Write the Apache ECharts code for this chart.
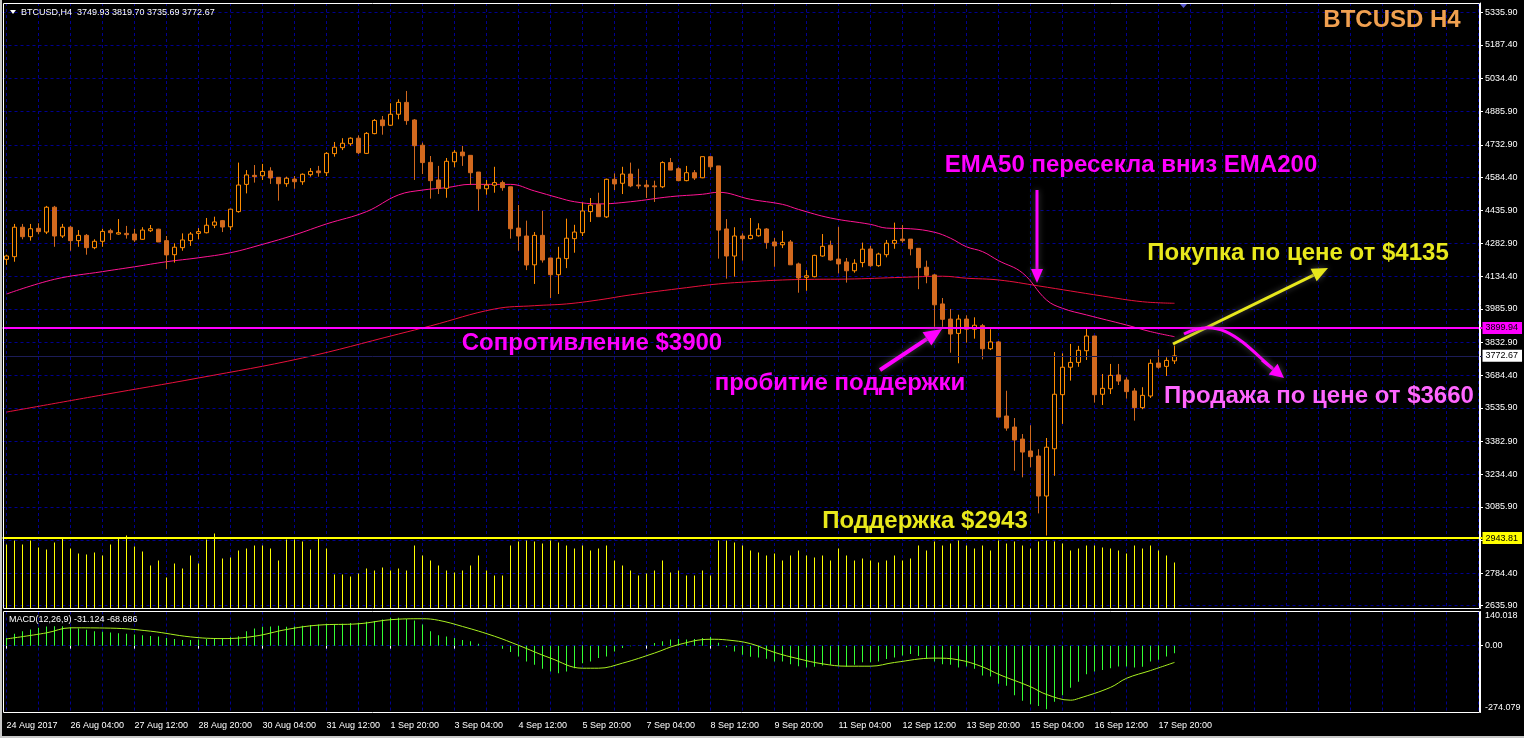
<!DOCTYPE html>
<html><head><meta charset="utf-8">
<script src="https://cdn.jsdelivr.net/npm/echarts@6/dist/echarts.min.js"></script>
<style>html,body{margin:0;padding:0;background:#000;}#c{width:1524px;height:738px;}</style>
</head><body><div id="c"></div>
<script>
// ---------------- DATA ----------------
const symbolName = 'BTCUSD,H4';
const timeLabels = ['24 Aug 2017','26 Aug 04:00','27 Aug 12:00','28 Aug 20:00','30 Aug 04:00','31 Aug 12:00','1 Sep 20:00','3 Sep 04:00','4 Sep 12:00','5 Sep 20:00','7 Sep 04:00','8 Sep 12:00','9 Sep 20:00','11 Sep 04:00','12 Sep 12:00','13 Sep 20:00','15 Sep 04:00','16 Sep 12:00','17 Sep 20:00'];
const priceTickValues = [2635.90,2784.40,2934.40,3085.90,3234.40,3382.90,3535.90,3684.40,3832.90,3985.90,4134.40,4282.90,4435.90,4584.40,4732.90,4885.90,5034.40,5187.40,5335.90];
const priceLabelValues = [2635.90,2784.40,3085.90,3234.40,3382.90,3535.90,3684.40,3832.90,3985.90,4134.40,4282.90,4435.90,4584.40,4732.90,4885.90,5034.40,5187.40,5335.90];
const macdLabelValues = [-274.079, 0, 140.018];
const resistanceLevel = 3899.94;
const supportLevel = 2943.81;
// [open, high, low, close]
const ohlc = [
[4212,4233,4187,4227],[4224,4373,4201,4358],[4358,4373,4303,4315],[4315,4373,4297,4351],[4353,4376,4326,4338],
[4336,4455,4327,4449],[4449,4455,4269,4318],[4318,4373,4309,4358],[4358,4364,4251,4297],[4297,4345,4269,4321],
[4321,4327,4233,4265],[4265,4303,4258,4294],[4294,4351,4269,4339],[4342,4351,4300,4333],[4327,4395,4324,4333],
[4330,4364,4306,4324],[4327,4351,4291,4300],[4303,4358,4300,4345],[4342,4368,4336,4351],[4349,4351,4291,4291],
[4297,4318,4168,4232],[4233,4285,4197,4267],[4265,4330,4251,4300],[4297,4336,4273,4327],[4330,4354,4303,4338],
[4333,4400,4330,4367],[4367,4406,4354,4382],[4388,4391,4336,4359],[4360,4442,4345,4440],[4429,4652,4424,4550],
[4553,4618,4512,4596],[4594,4641,4561,4588],[4592,4646,4573,4612],[4614,4631,4555,4582],[4585,4585,4479,4556],
[4556,4588,4542,4581],[4577,4591,4533,4565],[4565,4603,4551,4599],[4597,4627,4588,4612],[4614,4637,4588,4606],
[4606,4700,4591,4694],[4693,4746,4679,4722],[4720,4763,4709,4740],[4738,4767,4728,4763],[4763,4776,4691,4697],
[4694,4791,4691,4785],[4784,4850,4781,4844],[4846,4864,4779,4820],[4822,4922,4819,4872],[4872,4940,4849,4926],
[4926,4978,4824,4843],[4846,4850,4573,4729],[4731,4743,4600,4652],[4653,4682,4488,4570],[4573,4637,4509,4535],
[4535,4673,4492,4658],[4656,4709,4631,4699],[4700,4728,4637,4683],[4685,4685,4550,4606],[4609,4609,4433,4533],
[4533,4573,4506,4550],[4549,4633,4515,4561],[4561,4570,4524,4538],[4542,4542,4306,4351],[4354,4459,4251,4318],
[4318,4388,4163,4186],[4187,4336,4100,4321],[4321,4433,4197,4209],[4218,4218,4036,4142],[4142,4269,4054,4217],
[4215,4397,4172,4308],[4306,4369,4242,4336],[4333,4470,4318,4432],[4429,4491,4382,4458],[4462,4515,4406,4406],
[4405,4579,4400,4576],[4576,4603,4527,4555],[4558,4633,4509,4600],[4600,4652,4540,4546],[4550,4624,4533,4546],
[4550,4573,4491,4542],[4546,4570,4473,4542],[4542,4658,4536,4652],[4652,4673,4618,4618],[4624,4631,4567,4570],
[4570,4637,4567,4606],[4606,4618,4573,4582],[4583,4679,4581,4679],[4679,4679,4618,4633],[4637,4637,4215,4345],
[4350,4395,4124,4227],[4227,4358,4133,4318],[4318,4330,4206,4306],[4306,4400,4303,4321],[4319,4376,4315,4350],
[4350,4354,4260,4288],[4291,4309,4178,4273],[4278,4342,4263,4289],[4291,4300,4187,4187],[4191,4197,4060,4127],
[4130,4163,4069,4137],[4133,4233,4130,4230],[4227,4327,4224,4271],[4276,4297,4206,4209],[4213,4360,4148,4191],
[4200,4218,4106,4160],[4160,4212,4151,4194],[4197,4288,4176,4258],[4259,4273,4178,4183],[4183,4242,4178,4236],
[4233,4300,4221,4285],[4285,4379,4260,4298],[4304,4368,4288,4297],[4304,4304,4230,4260],[4262,4262,4076,4174],
[4176,4206,4103,4139],[4141,4145,3905,4005],[4009,4036,3905,3939],[3940,3986,3787,3872],[3875,3960,3739,3940],
[3940,3957,3833,3894],[3894,3948,3851,3912],[3910,3918,3757,3805],[3805,3894,3799,3836],[3836,3840,3494,3494],
[3499,3614,3432,3444],[3449,3490,3250,3390],[3394,3417,3220,3335],[3340,3457,3266,3314],[3317,3348,3056,3135],
[3135,3399,2955,3357],[3350,3790,3227,3598],[3596,3784,3463,3721],[3721,3827,3660,3743],[3743,3818,3723,3798],
[3796,3899,3754,3863],[3863,3863,3560,3596],[3598,3690,3549,3625],[3623,3736,3599,3684],[3686,3736,3640,3658],
[3663,3675,3578,3610],[3613,3626,3478,3537],[3537,3630,3530,3593],[3590,3757,3581,3739],[3740,3802,3714,3721],
[3725,3766,3681,3752],[3749.93,3819.70,3735.69,3772.67]
];
const volumes = [
640,680,640,680,610,590,660,710,600,550,540,560,530,640,710,730,620,570,430,480,
310,450,400,530,450,690,750,500,510,580,600,630,630,600,480,690,690,670,590,710,
600,340,340,320,350,400,380,410,380,400,380,630,530,480,430,380,360,380,430,530,
380,330,330,630,670,680,670,650,680,660,630,600,630,580,600,630,480,430,380,330,
350,380,480,360,380,330,330,380,330,680,680,660,630,580,560,530,550,480,530,580,
530,510,530,480,600,530,480,500,480,460,480,530,480,500,630,580,670,630,650,680,
630,600,630,580,680,650,670,630,600,670,680,670,650,580,600,630,630,610,600,580,
550,630,600,630,580,530,460
];
const macdMain = [
31.7,48.3,59.3,66.2,73.1,78.7,80,80,75.9,70.4,64.9,59.3,56.6,53.8,51.1,48.3,45.5,42.8,40,37.3,
31.7,27.6,23.5,23.5,24.8,27.6,29,31.7,34.5,38.6,59.3,70.4,77.3,78.7,81.4,77.3,78.7,81.4,84.2,86.9,
89.7,86.9,89.7,92.5,93.8,98,100.7,107.6,114.5,114.5,109,103.5,86.9,59.3,42.8,37.3,31.7,23.5,17.9,8.3,
1.4,-1.4,-12.4,-26.2,-44.2,-64.9,-78.7,-95.2,-106.3,-113.2,-106.3,-92.5,-71.8,-64.9,-51.1,-44.2,-23.5,-9.7,-2.8,-1.4,
1.4,11,17.9,24.8,27.6,24.8,27.6,31.7,35.9,12.4,-6.9,-23.5,-37.3,-45.5,-48.3,-53.8,-64.9,-64.9,-75.9,-84.2,
-89.7,-86.9,-81.4,-78.7,-81.4,-86.9,-78.7,-67.6,-67.6,-64.9,-55.2,-48.3,-40,-34.5,-42.8,-51.1,-64.9,-75.9,-78.7,-90,
-85,-95,-122.8,-126.9,-155.9,-164.2,-202.9,-226.3,-240.1,-247,-260.8,-230.5,-202.9,-172.5,-147.7,-117.3,-106.3,-99.4,-92.5,-85.6,
-85.6,-89.7,-86.9,-64.9,-57.9,-44.2,-31.124
];
// sparse readings [bar index, value]
const macdSignal = [[0,27.6],[5,52.4],[8,73.1],[13,71.8],[18,59.3],[23,35.9],[27,29],[31,38.6],[35,66.2],[39,84.2],[44,89.7],[48,106.3],[52,110.4],[54,104],[57,78.7],[61,38.6],[64,1.4],[68,-51.1],[72,-92.5],[74,-92.5],[77,-71.8],[81,-30.4],[84,4.1],[88,26.2],[90,23.5],[93,8.3],[96,-27.6],[99,-53.8],[102,-74.5],[105,-84.2],[108,-84.2],[111,-69],[116,-51.1],[119,-58],[122,-86.9],[124,-117.3],[128,-168.4],[130,-200.1],[133,-223.6],[134,-216.7],[138,-171.1],[140,-133.9],[143,-102.1],[146,-68.686]];
const ema50 = [[0,4054],[6,4121],[12,4156],[16,4178],[20,4201],[24,4219],[28,4242],[32,4280],[36,4323],[40,4373],[45,4429],[49,4505],[52,4527],[55,4538],[58,4553],[63,4553],[66,4523],[69,4492],[71,4474],[74,4464],[78,4474],[83,4497],[87,4508],[89,4517],[93,4485],[97,4462],[99,4439],[103,4400],[108,4371],[110,4354],[113,4351],[116,4335],[118,4308],[120,4269],[122,4247],[124,4206],[127,4150],[130,4027],[132,3989],[135,3959],[140,3913],[143,3883],[146,3860]];
const ema200 = [[0,3517],[12,3595],[24,3672],[37,3763],[49,3872],[53,3909],[61,3986],[66,4001],[70,4009],[74,4027],[78,4050],[85,4083],[89,4100],[93,4110],[97,4118],[101,4121],[105,4122],[112,4130],[117,4135],[120,4126],[124,4118],[129,4091],[137,4045],[142,4019],[146,4012]];

// ---------------- BUILD ----------------
const SLOTS = 185;
const categories = [];
const t0 = Date.UTC(2017, 7, 24, 20);
for (let i = 0; i < SLOTS; i++) categories.push(new Date(t0 + i * 4 * 3600000).toISOString().slice(0, 16));
const candleData = ohlc.map(r => [r[0], r[3], r[2], r[1]]);
const last = ohlc[ohlc.length - 1];
const FONT = '"Liberation Sans", Arial, sans-serif';
const gridLine = { color: '#000090', width: 1, type: [3, 3] };
const axisLblStyle = { color: '#ffffff', fontSize: 9, fontFamily: FONT };
const SH = { shadowBlur: 6, shadowColor: 'rgba(90,90,90,0.8)' };

function arrow(x1, y1, x2, y2, color, w, hl, hw) {
  const a = Math.atan2(y2 - y1, x2 - x1);
  const bx = x2 - hl * Math.cos(a), by = y2 - hl * Math.sin(a);
  const px = -Math.sin(a) * hw, py = Math.cos(a) * hw;
  return [
    { type: 'line', z: 100, shape: { x1, y1, x2: bx, y2: by }, style: Object.assign({ stroke: color, lineWidth: w }, SH) },
    { type: 'polygon', z: 100, shape: { points: [[x2, y2], [bx + px, by + py], [bx - px, by - py]] }, style: Object.assign({ fill: color }, SH) }
  ];
}
function label(x, y, text, color, size) {
  return { type: 'text', z: 100, x, y, style: { text, fill: color, font: 'bold ' + size + 'px ' + FONT, align: 'center', verticalAlign: 'middle', textAlign: 'center', textVerticalAlign: 'middle' } };
}
const MAG = '#ff00ff', YEL = '#e8e81c';
const graphics = [
  { type: 'rect', z: 90, shape: { x: 0, y: 0, width: 2, height: 738 }, style: { fill: '#c8c8c8' } },
  { type: 'rect', z: 90, shape: { x: 0, y: 736, width: 1524, height: 2 }, style: { fill: '#c8c8c8' } },
  { type: 'rect', z: 90, shape: { x: 3.5, y: 3.5, width: 1476, height: 605 }, style: { stroke: '#ffffff', fill: null, lineWidth: 1 } },
  { type: 'rect', z: 90, shape: { x: 3.5, y: 611.5, width: 1476, height: 101 }, style: { stroke: '#ffffff', fill: null, lineWidth: 1 } },
  { type: 'polygon', z: 100, shape: { points: [[1180, 4], [1187, 4], [1183.5, 8]] }, style: { fill: '#5a5ad0' } },
  { type: 'polygon', z: 100, shape: { points: [[10, 10], [16, 10], [13, 14]] }, style: { fill: '#ffffff' } },
  { type: 'text', z: 100, x: 21, y: 13, style: { text: symbolName + '  ' + last.map(v => v.toFixed(2)).join(' '), fill: '#ffffff', font: '9px ' + FONT, verticalAlign: 'middle', textVerticalAlign: 'middle' } },
  { type: 'text', z: 100, x: 9, y: 620, style: { text: 'MACD(12,26,9) ' + macdMain[macdMain.length - 1].toFixed(3) + ' ' + macdSignal[macdSignal.length - 1][1].toFixed(3), fill: '#ffffff', font: '9px ' + FONT, verticalAlign: 'middle', textVerticalAlign: 'middle' } },
  label(1392, 20, 'BTCUSD H4', '#f0a050', 24),
  label(1131, 165, 'EMA50 пересекла вниз EMA200', MAG, 24),
  label(1298, 253, 'Покупка по цене от $4135', YEL, 24),
  label(592, 343, 'Сопротивление $3900', MAG, 24),
  label(840, 383, 'пробитие поддержки', MAG, 24),
  label(1319, 396, 'Продажа по цене от $3660', '#ff66ff', 24),
  label(925, 521, 'Поддержка $2943', YEL, 24),
  ...arrow(1037, 190, 1037, 283, MAG, 3, 14, 6),
  ...arrow(1173, 344, 1328, 268, YEL, 3, 16, 7),
  ...arrow(880, 370, 942, 329, MAG, 4, 18, 8),
  { type: 'bezierCurve', z: 100, shape: { x1: 1184, y1: 334, cpx1: 1222, cpy1: 314, cpx2: 1245, cpy2: 345, x2: 1272, y2: 368 }, style: Object.assign({ stroke: MAG, lineWidth: 3, fill: null }, SH) },
  ...arrow(1262, 360, 1284, 378, MAG, 3, 14, 7)
];

const option = {
  backgroundColor: '#000000',
  animation: false,
  grid: [
    { left: 2.5, top: 3, width: 1480, height: 605.5, show: false },
    { left: 2.5, top: 611.5, width: 1480, height: 101, show: false }
  ],
  xAxis: [
    { type: 'category', gridIndex: 0, data: categories, boundaryGap: true,
      axisLine: { show: false }, axisTick: { show: false }, axisLabel: { show: false },
      splitLine: { show: true, interval: (i) => i % 4 === 0, alignWithLabel: true, lineStyle: gridLine } },
    { type: 'category', gridIndex: 1, data: categories, boundaryGap: true,
      axisLine: { show: false },
      axisTick: { show: true, interval: (i) => i % 8 === 0 && i / 8 < timeLabels.length, alignWithLabel: true, length: 3, lineStyle: { color: '#ffffff' } },
      axisLabel: Object.assign({ show: true, interval: (i) => i % 8 === 0 && i / 8 < timeLabels.length, align: 'left', margin: 9,
        formatter: (v, i) => timeLabels[i / 8] || '' }, axisLblStyle),
      splitLine: { show: true, interval: (i) => i % 4 === 0, alignWithLabel: true, lineStyle: gridLine } }
  ],
  yAxis: [
    { type: 'value', gridIndex: 0, position: 'right', offset: -2.5, min: 2623.2, max: 5378.2, scale: true,
      axisLine: { show: true, lineStyle: { color: '#ffffff' } },
      axisTick: { show: true, length: 3, customValues: priceTickValues, lineStyle: { color: '#ffffff' } },
      axisLabel: Object.assign({ customValues: priceLabelValues, margin: 5, formatter: (v) => v.toFixed(2) }, axisLblStyle),
      splitLine: { show: true, lineStyle: gridLine } },
    { type: 'value', gridIndex: 0, min: 0, max: 6055, show: false, splitLine: { show: false } },
    { type: 'value', gridIndex: 1, position: 'right', offset: -2.5, min: -274.079, max: 140.018,
      axisLine: { show: true, lineStyle: { color: '#ffffff' } },
      axisTick: { show: true, length: 3, customValues: [0], lineStyle: { color: '#ffffff' } },
      axisLabel: Object.assign({ customValues: macdLabelValues, margin: 5, verticalAlignMinLabel: 'bottom', verticalAlignMaxLabel: 'top',
        formatter: (v) => v === 0 ? '0.00' : v.toFixed(3) }, axisLblStyle),
      splitLine: { show: true, lineStyle: gridLine } }
  ],
  series: [
    { type: 'bar', name: 'Volumes', xAxisIndex: 0, yAxisIndex: 1, data: volumes, barWidth: 1, itemStyle: { color: '#ffff00' }, z: 1 },
    { type: 'line', name: 'EMA200', xAxisIndex: 0, yAxisIndex: 0, data: ema200, symbol: 'none', smooth: 0.4, lineStyle: { color: '#e8103c', width: 1 }, z: 2 },
    { type: 'line', name: 'EMA50', xAxisIndex: 0, yAxisIndex: 0, data: ema50, symbol: 'none', smooth: 0.4, lineStyle: { color: '#ff1493', width: 1 }, z: 2 },
    { type: 'candlestick', name: symbolName, xAxisIndex: 0, yAxisIndex: 0, data: candleData, barWidth: 4, z: 3,
      itemStyle: { color: '#000000', color0: '#d2691e', borderColor: '#ff8c00', borderColor0: '#d2691e', borderWidth: 1 },
      markLine: { silent: true, symbol: 'none', animation: false, z: 4,
        data: [
          { yAxis: resistanceLevel, lineStyle: { color: '#ff00ff', width: 2, type: 'solid' },
            label: { show: true, position: 'end', distance: 0, formatter: resistanceLevel.toFixed(2), backgroundColor: '#ff00ff', color: '#000000', padding: [2, 4, 1, 3], fontSize: 9, fontFamily: FONT } },
          { yAxis: supportLevel, lineStyle: { color: '#ffff00', width: 2, type: 'solid' },
            label: { show: true, position: 'end', distance: 0, formatter: supportLevel.toFixed(2), backgroundColor: '#ffff00', color: '#000000', padding: [2, 4, 1, 3], fontSize: 9, fontFamily: FONT } },
          { yAxis: last[3], lineStyle: { color: '#1c1c58', width: 1, type: 'solid' },
            label: { show: true, position: 'end', distance: 0, formatter: last[3].toFixed(2), backgroundColor: '#ffffff', color: '#000000', padding: [2, 4, 1, 3], fontSize: 9, fontFamily: FONT } }
        ] } },
    { type: 'bar', name: 'MACD', xAxisIndex: 1, yAxisIndex: 2, data: macdMain, barWidth: 1, itemStyle: { color: '#33ff33' } },
    { type: 'line', name: 'Signal', xAxisIndex: 1, yAxisIndex: 2, data: macdSignal, symbol: 'none', smooth: 0.4, lineStyle: { color: '#a8f020', width: 1 } }
  ],
  graphic: graphics
};
const chart = echarts.init(document.getElementById('c'));
chart.setOption(option);
</script></body></html>
